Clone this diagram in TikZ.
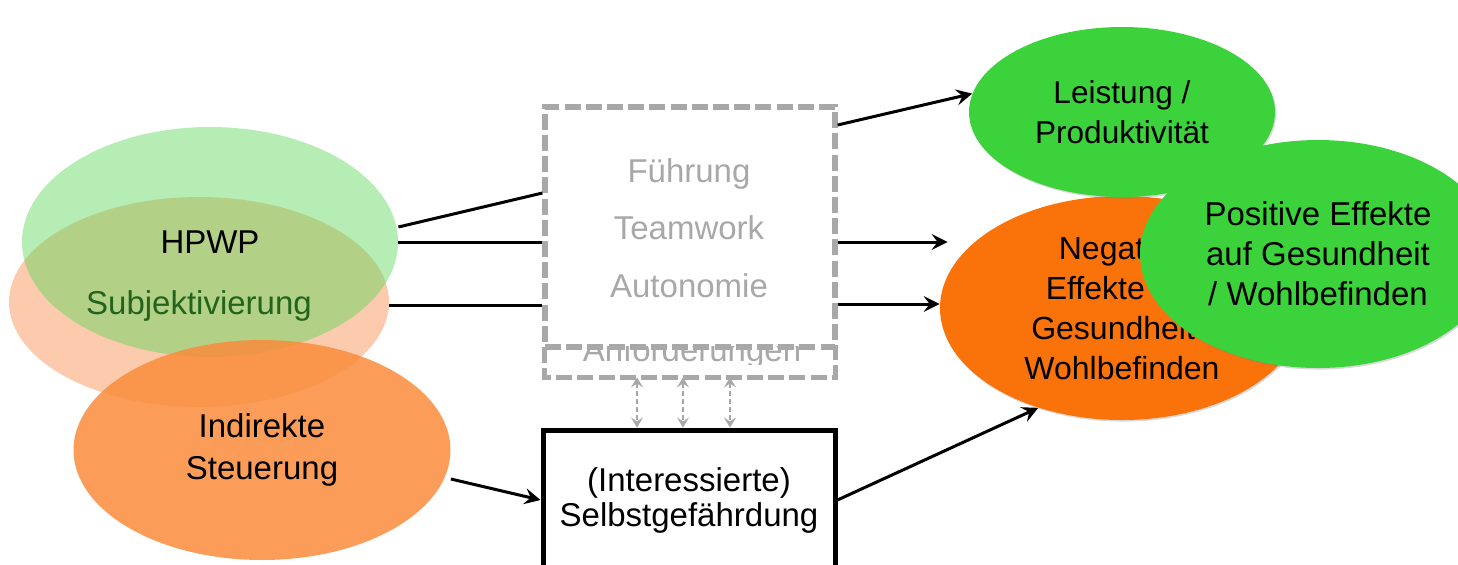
\documentclass[tikz,border=0pt]{standalone}
\usepackage{fontspec}
\setmainfont{Liberation Sans}
\usetikzlibrary{arrows.meta,shapes.geometric,shadows}

\definecolor{softgreen}{RGB}{90,215,90}
\definecolor{softorange}{RGB}{250,150,90}
\definecolor{steerorange}{RGB}{250,140,60}
\definecolor{effgreen}{RGB}{60,210,60}
\definecolor{efforange}{RGB}{250,115,10}
\definecolor{boxgrey}{RGB}{168,168,168}
\definecolor{subjgreen}{RGB}{35,100,28}

\begin{document}
\begin{tikzpicture}[
    x=0.5pt,
    y=-0.5pt,
    font=\fontsize{16.5}{21}\selectfont,
    factor/.style={
        ellipse,
        inner sep=0pt,
        align=center,
        text opacity=1
    },
    effect/.style={
        ellipse,
        inner sep=0pt,
        align=center,
        drop shadow={opacity=0.3,shadow xshift=0.6pt,shadow yshift=-0.8pt}
    },
    frame/.style={
        draw=boxgrey,
        line width=2.6pt,
        dash pattern=on 8pt off 2.6pt
    },
    msg/.style={
        -{Stealth[length=8pt,width=8pt,inset=3pt]},
        line width=1.5pt
    },
    link/.style={
        {Stealth[length=5pt,width=6pt,inset=2pt]}-{Stealth[length=5pt,width=6pt,inset=2pt]},
        draw=boxgrey,
        line width=1.2pt,
        dash pattern=on 2.5pt off 1.5pt
    }
]
\useasboundingbox (0,0) rectangle (1458,564);
\clip (0,0) rectangle (1458,564);

% Left factors
\node[factor, fill=softorange, fill opacity=0.5,
      minimum width=190pt, minimum height=105pt] (subj) at (199,302) {};
\node[factor, fill=softgreen, fill opacity=0.45,
      minimum width=188pt, minimum height=115pt] (hpwp) at (210,242) {HPWP};
\node[text=subjgreen] (subjtext) at (199,306) {Subjektivierung};
\node[factor, fill=steerorange, fill opacity=0.85,
      minimum width=188.5pt, minimum height=110pt] (steuer) at (262,450) {Indirekte\\Steuerung};

% Middle boxes
\begin{scope}
\clip (545,346) rectangle (835,364);
\node[text=boxgrey, anchor=base] (anftext) at (692,361) {Anforderungen};
\end{scope}
\node[minimum width=145pt, minimum height=15pt] (anf) at (690,362) {};
\draw[frame] (anf.north west) -- (anf.south west) -- (anf.south east) -- (anf.north east);
\node[frame, minimum width=145pt, minimum height=120pt] (mid) at (690,227) {};
\node[text=boxgrey, align=center, font=\fontsize{16.5}{28.75}\selectfont] (midtext) at (689,228)
    {Führung\\Teamwork\\Autonomie};
\node[draw, line width=2.5pt, fill=white, align=center, font=\fontsize{16.5}{17.5}\selectfont,
      minimum width=146pt, minimum height=70pt] (selbst) at (689,500)
    {(Interessierte)\\Selbstgefährdung};

% Effects
\node[effect, fill=efforange, font=\fontsize{16}{20}\selectfont,
      minimum width=182pt, minimum height=112pt] (neg) at (1122,308)
    {Negative\\Effekte auf\\Gesundheit /\\Wohlbefinden};
\node[effect, fill=effgreen, font=\fontsize{15.8}{20}\selectfont,
      minimum width=153pt, minimum height=85pt] (leist) at (1122,112)
    {Leistung /\\Produktivität};
\node[effect, fill=effgreen, font=\fontsize{16.5}{20}\selectfont,
      minimum width=178pt, minimum height=114pt] (pos) at (1318,254)
    {Positive Effekte\\auf Gesundheit\\/ Wohlbefinden};

% Connections
\draw[line width=1.5pt] ([yshift=7.5pt]hpwp.east) -- ([yshift=17pt]mid.west);
\draw[line width=1.5pt] ([yshift=0pt]hpwp.east) -- ([yshift=-7.5pt]mid.west);
\draw[line width=1.5pt] ([yshift=-1.5pt]subj.east) -- ([yshift=-1.5pt]subj.east -| mid.west);
\draw[msg] ([yshift=51pt]mid.east) -- (leist.173);
\draw[msg] ([yshift=-7.5pt]mid.east) -- ([xshift=4pt,yshift=-7.5pt]mid.east -| neg.west);
\draw[msg] ([yshift=-38.5pt]mid.east) -- ([yshift=-38.5pt]mid.east -| neg.west);
\draw[msg] ([yshift=-14.5pt]steuer.east) -- (selbst.west);
\draw[msg] (selbst.east) -- (neg.230);

\foreach \x in {637,683,730}
    \draw[link] (\x,0 |- anf.south) -- (\x,0 |- selbst.north);

\end{tikzpicture}
\end{document}
